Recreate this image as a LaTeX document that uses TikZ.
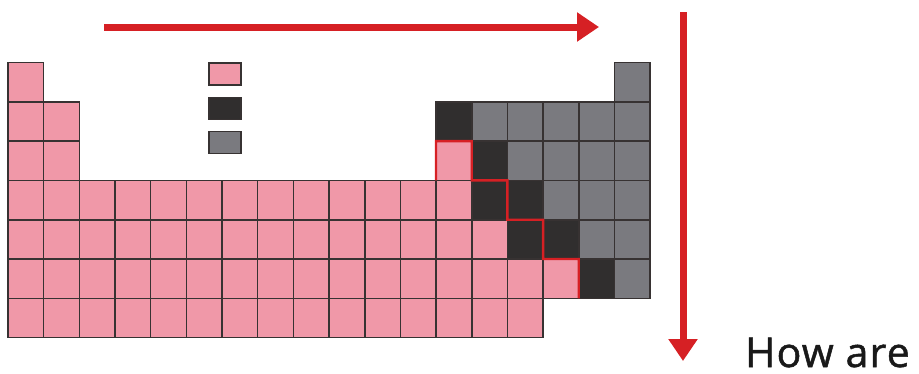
\documentclass[tikz,border=0pt]{standalone}
\usepackage{fontspec}
\setmainfont{Open Sans}
\newfontfamily\askfont{Open Sans}[LetterSpace=3,FakeBold=1.2]
\usepackage{tikz}
\usetikzlibrary{arrows.meta}

\definecolor{metalpink}{RGB}{240,152,168}
\definecolor{semidark}{RGB}{48,46,46}
\definecolor{nongray}{RGB}{122,122,127}
\definecolor{cellline}{RGB}{55,50,50}
\definecolor{trendred}{RGB}{214,32,36}

\begin{document}
\begin{tikzpicture}[x=1pt,y=-1pt,
  cell/.style={draw=cellline,line width=1.6pt,inner sep=0pt,outer sep=0pt,
    minimum width=35.67pt,minimum height=39.3pt},
  metal/.style={cell,fill=metalpink},
  semi/.style={cell,fill=semidark},
  nonmetal/.style={cell,fill=nongray},
  key/.style={draw=cellline,line width=1.2pt,inner sep=0pt,outer sep=0pt,
    minimum width=32pt,minimum height=22pt},
  trend/.style={draw=trendred,line width=7pt,
    -{Triangle[length=22pt,width=28pt]}}]
\useasboundingbox (0,0) rectangle (919,373);
% cells, row by row
\foreach \r/\cs in {1/{1},2/{1,2},3/{1,2,13},4/{1,...,13},5/{1,...,14},
    6/{1,...,16},7/{1,...,15}}
  \foreach \c in \cs
    \node[metal] (c\r-\c) at ({8+(\c-0.5)*35.67},{62.5+(\r-0.5)*39.3}) {};
\foreach \r/\c in {2/13,3/14,4/14,4/15,5/15,5/16,6/17}
  \node[semi] (c\r-\c) at ({8+(\c-0.5)*35.67},{62.5+(\r-0.5)*39.3}) {};
\foreach \r/\cs in {1/{18},2/{14,...,18},3/{15,...,18},4/{16,17,18},
    5/{17,18},6/{18}}
  \foreach \c in \cs
    \node[nonmetal] (c\r-\c) at ({8+(\c-0.5)*35.67},{62.5+(\r-0.5)*39.3}) {};
% key
\node[key,fill=metalpink] (keyM) at (225,74) {};
\node[key,fill=semidark] (keyS) at (225,108.5) {};
\node[key,fill=nongray] (keyN) at (225,142.5) {};
% staircase
\draw[trendred,line width=2.4pt,line join=miter]
  (c3-13.south west) -- (c3-13.north west) -- (c3-13.north east)
  -- (c4-14.north west) -- (c4-14.north east) -- (c4-14.south east)
  -- (c5-15.north east) -- (c5-15.south east)
  -- (c6-16.north east) -- (c6-16.south east);
% trends
\coordinate (rowS) at (104,27);
\coordinate (rowE) at (599,27);
\coordinate (colS) at (683,12);
\coordinate (colE) at (683,361);
\draw[trend] (rowS) -- (rowE);
\draw[trend] (colS) -- (colE);
\node[font=\askfont\fontsize{41}{41}\selectfont,anchor=base west,inner sep=0pt,
  text=black!90] (ask) at (745,367) {How are};
\end{tikzpicture}
\end{document}
